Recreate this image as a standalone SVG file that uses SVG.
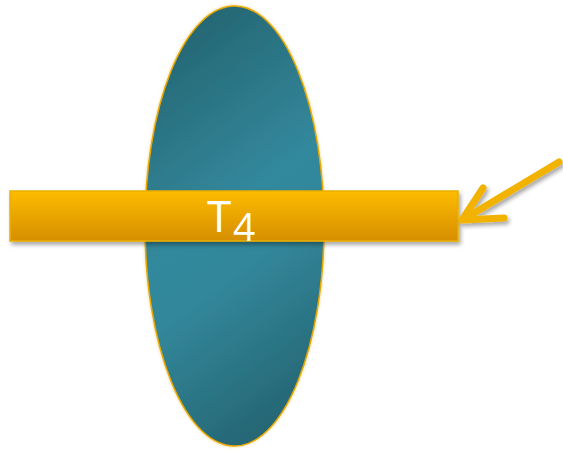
<svg xmlns="http://www.w3.org/2000/svg" width="563" height="452" viewBox="0 0 563 452">
<defs>
<linearGradient id="ellG" x1="0.35" y1="0" x2="0.65" y2="1">
<stop offset="0" stop-color="#256673"/>
<stop offset="0.45" stop-color="#33889C"/>
<stop offset="0.6" stop-color="#32879A"/>
<stop offset="1" stop-color="#256472"/>
</linearGradient>
<linearGradient id="barG" x1="0" y1="0" x2="0" y2="1">
<stop offset="0" stop-color="#FDBC00"/>
<stop offset="1" stop-color="#D68E00"/>
</linearGradient>
<filter id="sh" x="-10%" y="-10%" width="130%" height="140%">
<feDropShadow dx="2" dy="3" stdDeviation="2" flood-color="#000" flood-opacity="0.35"/>
</filter>
<filter id="glow" x="-10%" y="-10%" width="120%" height="120%">
<feDropShadow dx="0" dy="0" stdDeviation="1.5" flood-color="#E0A000" flood-opacity="0.5"/>
</filter>
<style>
.txt{font-family:"Open Sans","Liberation Sans",sans-serif;fill:#fff}
.arr{fill:none;stroke:#F2B200;stroke-width:7;stroke-linecap:round;stroke-linejoin:round}
</style>
</defs>
<g id="disc">
<ellipse cx="234.5" cy="226" rx="89.5" ry="220" fill="url(#ellG)" stroke="#E8A800" stroke-width="1.5" filter="url(#glow)"/>
</g>
<g id="bar">
<rect x="10" y="191" width="448" height="50" fill="url(#barG)" stroke="#EAAE00" stroke-width="1.5" filter="url(#sh)"/>
<text class="txt" x="207" y="232" font-size="44">T</text>
<text class="txt" x="233" y="241" font-size="39">4</text>
</g>
<g id="connectors">
<g filter="url(#sh)">
<line class="arr" x1="559" y1="162" x2="464" y2="219"/>
<polyline class="arr" points="483,188 462,220 504,218"/>
</g>
</g>
</svg>
